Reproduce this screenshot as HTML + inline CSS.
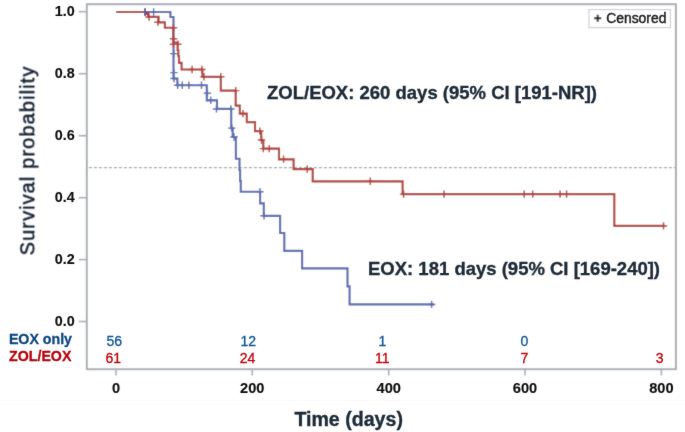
<!DOCTYPE html>
<html><head><meta charset="utf-8"><style>
html,body{margin:0;padding:0;background:#fff;}
body{width:685px;height:432px;overflow:hidden;}
svg{display:block;}
text{font-family:"Liberation Sans",sans-serif;}
.tx{font-size:14.6px;font-weight:bold;fill:#111;stroke:#111;stroke-width:0.15px;}
.tk{font-size:15.3px;font-weight:bold;fill:#111;stroke:#111;stroke-width:0.15px;}
.lg{font-size:14.2px;fill:#1c1c1c;stroke:#1c1c1c;stroke-width:0.45px;}
.an{font-weight:bold;fill:#1f2b38;stroke:#1f2b38;stroke-width:0.35px;}
.yl{font-size:20px;fill:#0f1c2e;stroke:#0f1c2e;stroke-width:0.45px;}
.rl{font-size:14.2px;font-weight:bold;stroke-width:0.3px;}
.rk{font-size:14px;stroke-width:0.3px;}
</style></head><body>
<svg width="685" height="432" viewBox="0 0 685 432">
<defs><filter id="bl" filterUnits="userSpaceOnUse" x="0" y="0" width="685" height="432"><feConvolveMatrix order="3" kernelMatrix="1 3 1 3 24 3 1 3 1" edgeMode="duplicate"/></filter>
<filter id="bt" filterUnits="userSpaceOnUse" x="0" y="0" width="685" height="432"><feConvolveMatrix order="3" kernelMatrix="1 2 1 2 40 2 1 2 1" edgeMode="duplicate"/></filter></defs>
<g filter="url(#bl)">
<rect width="685" height="432" fill="#fff"/>
<rect x="86.8" y="4.2" width="589.1" height="365" fill="none" stroke="#a8afb5" stroke-width="2"/>
<line x1="78.8" y1="11.7" x2="86" y2="11.7" stroke="#a8afb5" stroke-width="1.6"/>
<line x1="78.8" y1="73.7" x2="86" y2="73.7" stroke="#a8afb5" stroke-width="1.6"/>
<line x1="78.8" y1="135.7" x2="86" y2="135.7" stroke="#a8afb5" stroke-width="1.6"/>
<line x1="78.8" y1="197.7" x2="86" y2="197.7" stroke="#a8afb5" stroke-width="1.6"/>
<line x1="78.8" y1="259.6" x2="86" y2="259.6" stroke="#a8afb5" stroke-width="1.6"/>
<line x1="78.8" y1="321.5" x2="86" y2="321.5" stroke="#a8afb5" stroke-width="1.6"/>
<line x1="116" y1="370" x2="116" y2="375.5" stroke="#a8afb5" stroke-width="1.6"/>
<line x1="252.3" y1="370" x2="252.3" y2="375.5" stroke="#a8afb5" stroke-width="1.6"/>
<line x1="388.7" y1="370" x2="388.7" y2="375.5" stroke="#a8afb5" stroke-width="1.6"/>
<line x1="525" y1="370" x2="525" y2="375.5" stroke="#a8afb5" stroke-width="1.6"/>
<line x1="661.4" y1="370" x2="661.4" y2="375.5" stroke="#a8afb5" stroke-width="1.6"/>
<line x1="88.8" y1="167.6" x2="675" y2="167.6" stroke="#aaaaaa" stroke-width="1.3" stroke-dasharray="3.2 1.8"/>
<path d="M116.25,12 H170.4 V17 H173.5 V78.5 H177.4 V85.2 H206.8 V100.3 H217 V108.9 H231.2 V128.1 H232.7 V137 H235.9 V158.7 H239.5 V170 H240.1 V181 H240.8 V191.7 H260.1 V203.3 H263.8 V215.8 H280.1 V233 H284.3 V250.9 H302.1 V268.4 H347.5 V286.3 H349.6 V304.4 H434" fill="none" stroke="#5a6bb0" stroke-width="2.15"/>
<path d="M141.3,12.0h7.4M145.0,8.3v7.4M149.9,12.0h7.4M153.6,8.3v7.4M170.1,53.6h7.4M173.8,49.9v7.4M170.2,72.6h7.4M173.9,68.9v7.4M170.3,78.5h7.4M174.0,74.8v7.4M173.9,85.2h7.4M177.6,81.5v7.4M178.6,85.2h7.4M182.3,81.5v7.4M185.2,85.2h7.4M188.9,81.5v7.4M197.8,85.2h7.4M201.5,81.5v7.4M203.7,93.3h7.4M207.4,89.6v7.4M207.0,100.3h7.4M210.7,96.6v7.4M212.8,108.9h7.4M216.5,105.2v7.4M227.2,108.9h7.4M230.9,105.2v7.4M228.1,128.1h7.4M231.8,124.4v7.4M230.3,137.0h7.4M234.0,133.3v7.4M256.3,191.7h7.4M260.0,188.0v7.4M260.3,215.8h7.4M264.0,212.1v7.4M427.9,304.4h7.4M431.6,300.7v7.4" fill="none" stroke="#5a6bb0" stroke-width="1.45"/>
<path d="M116.25,12 H145.5 V14 H148 V16.9 H158.6 V22.3 H164.9 V27.7 H173.2 V42.5 H177.6 V50 H178.3 V56 H179 V62.8 H181.6 V69.5 H202.4 V76.8 H220.8 V90.6 H235.7 V105.6 H239.8 V113.6 H246.8 V122.1 H255 V131.1 H261.2 V140 H263.3 V148.6 H279 V159.3 H293.6 V169.1 H312.7 V181.3 H402.6 V194.1 H614.3 V225.9 H665" fill="none" stroke="#b1413a" stroke-width="2.15"/>
<path d="M141.3,12.0h7.4M145.0,8.3v7.4M145.3,17.0h7.4M149.0,13.3v7.4M154.1,22.3h7.4M157.8,18.6v7.4M169.8,27.7h7.4M173.5,24.0v7.4M169.8,38.8h7.4M173.5,35.1v7.4M169.8,44.3h7.4M173.5,40.6v7.4M174.1,44.3h7.4M177.8,40.6v7.4M188.4,69.5h7.4M192.1,65.8v7.4M198.2,69.5h7.4M201.9,65.8v7.4M200.3,76.8h7.4M204.0,73.1v7.4M217.1,76.8h7.4M220.8,73.1v7.4M232.0,90.6h7.4M235.7,86.9v7.4M239.3,113.6h7.4M243.0,109.9v7.4M256.2,131.1h7.4M259.9,127.4v7.4M257.8,140.0h7.4M261.5,136.3v7.4M259.6,148.6h7.4M263.3,144.9v7.4M265.6,148.6h7.4M269.3,144.9v7.4M279.9,159.3h7.4M283.6,155.6v7.4M303.5,169.1h7.4M307.2,165.4v7.4M366.6,181.3h7.4M370.3,177.6v7.4M399.9,194.1h7.4M403.6,190.4v7.4M440.4,194.1h7.4M444.1,190.4v7.4M520.5,194.1h7.4M524.2,190.4v7.4M529.0,194.1h7.4M532.7,190.4v7.4M556.4,194.1h7.4M560.1,190.4v7.4M562.9,194.1h7.4M566.6,190.4v7.4M659.8,225.9h7.4M663.5,222.2v7.4" fill="none" stroke="#b1413a" stroke-width="1.45"/>
<path d="M141.3,12.0h7.4M145.0,8.3v7.4" fill="none" stroke="#5a5a9a" stroke-width="1.7"/>
<line x1="0" y1="400.5" x2="685" y2="400.5" stroke="#fafafa" stroke-width="1"/>
<rect x="589" y="9.6" width="81.4" height="18" fill="#fff" stroke="#cfcfcf" stroke-width="1.2"/>
<path d="M594.2,18.2h7M597.7,14.7v7" stroke="#262626" stroke-width="1.9"/>
</g>
<g filter="url(#bt)">
<text x="74.6" y="16.2" text-anchor="end" textLength="19.9" lengthAdjust="spacingAndGlyphs" class="tk">1.0</text>
<text x="74.6" y="78.2" text-anchor="end" textLength="19.9" lengthAdjust="spacingAndGlyphs" class="tk">0.8</text>
<text x="74.6" y="140.2" text-anchor="end" textLength="19.9" lengthAdjust="spacingAndGlyphs" class="tk">0.6</text>
<text x="74.6" y="202.2" text-anchor="end" textLength="19.9" lengthAdjust="spacingAndGlyphs" class="tk">0.4</text>
<text x="74.6" y="264.1" text-anchor="end" textLength="19.9" lengthAdjust="spacingAndGlyphs" class="tk">0.2</text>
<text x="74.6" y="326.0" text-anchor="end" textLength="19.9" lengthAdjust="spacingAndGlyphs" class="tk">0.0</text>
<text x="116" y="393" text-anchor="middle" class="tx">0</text>
<text x="252.3" y="393" text-anchor="middle" class="tx">200</text>
<text x="388.7" y="393" text-anchor="middle" class="tx">400</text>
<text x="525" y="393" text-anchor="middle" class="tx">600</text>
<text x="661.4" y="393" text-anchor="middle" class="tx">800</text>
<text x="606.2" y="22.6" class="lg" textLength="60.2" lengthAdjust="spacingAndGlyphs">Censored</text>
<text x="267" y="99.2" class="an" style="font-size:18.5px">ZOL/EOX: 260 days (95% CI [191-NR])</text>
<text x="368" y="274.8" class="an" style="font-size:18.5px">EOX: 181 days (95% CI [169-240])</text>
<text x="294.4" y="426.2" class="an" style="font-size:19.6px">Time (days)</text>
<text transform="translate(34.3,254.6) rotate(-90)" x="-0.8" y="0" class="yl" letter-spacing="1.1">Survival probability</text>
<text x="8.9" y="344.2" class="rl" fill="#0e4780" stroke="#0e4780">EOX only</text>
<text x="9.1" y="360.8" class="rl" fill="#b8000a" stroke="#b8000a">ZOL/EOX</text>
<text x="114.2" y="345.6" text-anchor="middle" class="rk" fill="#0d5392" stroke="#0d5392">56</text>
<text x="248.3" y="345.6" text-anchor="middle" class="rk" fill="#0d5392" stroke="#0d5392">12</text>
<text x="382.4" y="345.6" text-anchor="middle" class="rk" fill="#0d5392" stroke="#0d5392">1</text>
<text x="524.4" y="345.6" text-anchor="middle" class="rk" fill="#0d5392" stroke="#0d5392">0</text>
<text x="113.2" y="362.8" text-anchor="middle" class="rk" fill="#c0000c" stroke="#c0000c">61</text>
<text x="247.6" y="362.8" text-anchor="middle" class="rk" fill="#c0000c" stroke="#c0000c">24</text>
<text x="382.2" y="362.8" text-anchor="middle" class="rk" fill="#c0000c" stroke="#c0000c">11</text>
<text x="524.5" y="362.8" text-anchor="middle" class="rk" fill="#c0000c" stroke="#c0000c">7</text>
<text x="659.6" y="362.8" text-anchor="middle" class="rk" fill="#c0000c" stroke="#c0000c">3</text>
</g>
</svg>
</body></html>
